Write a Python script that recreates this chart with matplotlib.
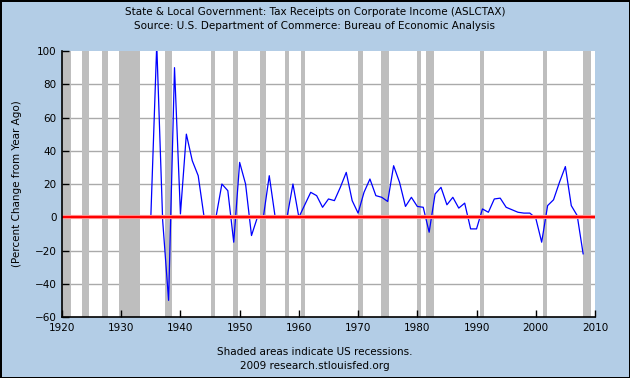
import matplotlib
matplotlib.use("Agg")
import matplotlib.pyplot as plt

# ========================================================================================
# data (annual, percent change from year ago)

years = list(range(1935, 2009))
pct_change = [
    0, 104, -2, -50, 90, 2, 50, 34, 25, 0,          # 1935-1944
    0, 0, 20, 16, -15, 33, 20, -11, 0, 0,           # 1945-1954
    25, 0, 0, 0, 20, 0, 7.5, 15, 13, 6,             # 1955-1964
    11, 10, 18, 27, 10, 2.5, 15, 23, 13, 12,        # 1965-1974
    9.5, 31, 21, 6.5, 12, 6.5, 6, -9, 14, 18,       # 1975-1984
    7.5, 12, 5.5, 8.5, -7, -7, 5, 3, 11, 11.5,      # 1985-1994
    6, 4.5, 3, 2.5, 2.5, -0.5, -15, 7, 10.5, 21,    # 1995-2004
    30.5, 7, 1, -22,                                # 2005-2008
]

# recessions (start, end) as fractional years
recession_start = [1920.0, 1923.4, 1926.75, 1929.6, 1937.4, 1945.1, 1948.85, 1953.5,
                   1957.6, 1960.3, 1969.95, 1973.85, 1980.0, 1981.55, 1990.55,
                   2001.2, 2007.9]
recession_end = [1921.55, 1924.55, 1927.85, 1933.2, 1938.5, 1945.8, 1949.8, 1954.4,
                 1958.3, 1961.1, 1970.9, 1975.2, 1980.55, 1982.9, 1991.2,
                 2001.9, 2009.4]

title = ("State & Local Government: Tax Receipts on Corporate Income (ASLCTAX)\n"
         "Source: U.S. Department of Commerce: Bureau of Economic Analysis")

# ========================================================================================

bg = "#b3cde6"
fig = plt.figure(figsize=(6.3, 3.78), dpi=100, facecolor=bg,
                 edgecolor="black", linewidth=1.0)
ax = fig.add_axes([0.0984, 0.1614, 0.8460, 0.7036])
ax.set_facecolor("white")

for s, e in zip(recession_start, recession_end):
    ax.axvspan(s, e, color="#bebebe", lw=0, zorder=1)

for yv in range(-40, 100, 20):
    ax.axhline(yv, color="#aaaaaa", lw=1.0, zorder=0.5)

ax.plot(years, pct_change, color="#0000ff", lw=0.9, zorder=3)

# zero line: red core with a pale halo
ax.axhline(0, color="#ff9090", lw=3.0, zorder=4)
ax.axhline(0, color="#ff0000", lw=1.5, zorder=5)

ax.set_xlim(1920, 2010)
ax.set_ylim(-60, 100)
ax.set_xticks(range(1920, 2011, 10))
ax.set_yticks(range(-60, 101, 20))

for side in ["top", "right"]:
    ax.spines[side].set_visible(False)
for side in ["left", "bottom"]:
    ax.spines[side].set_linewidth(1.2)
    ax.spines[side].set_zorder(6)

ax.tick_params(direction="in", length=5, width=1, labelsize=7.5, colors="black", pad=4)

ax.set_ylabel("(Percent Change from Year Ago)", fontsize=7.5, labelpad=9)

fig.text(0.5, 1 - 19 / 378, title, ha="center", va="center", fontsize=7.5,
         linespacing=1.5)
fig.text(0.5, 1 - 352 / 378, "Shaded areas indicate US recessions.", ha="center",
         va="center", fontsize=7.5)
fig.text(0.5, 1 - 366 / 378, "2009 research.stlouisfed.org", ha="center",
         va="center", fontsize=7.5)

plt.savefig("out.png", dpi=100)
